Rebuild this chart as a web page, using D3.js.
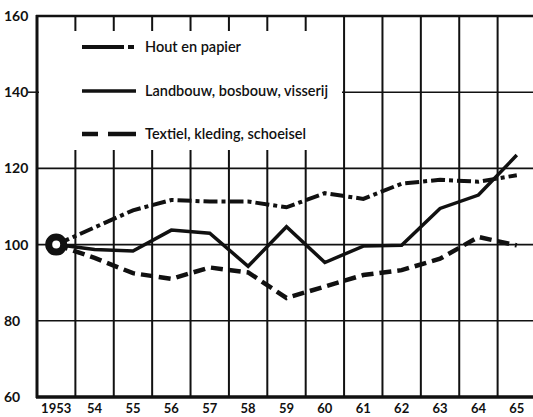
<!DOCTYPE html>
<html>
<head>
<script src="https://d3js.org/d3.v7.min.js"></script>
<style>
  body { margin: 0; background: #fff; }
  text { font-family: Lato, "Open Sans", sans-serif; fill: #111; }
</style>
</head>
<body>
<div id="chart"></div>
<script>
var years = ["1953","54","55","56","57","58","59","60","61","62","63","64","65"];
var hout     = [100, 104.5, 109, 111.7, 111.3, 111.3, 109.8, 113.5, 112, 116, 117, 116.5, 118.2];
var landbouw = [100, 98.7, 98.3, 103.8, 103, 94.3, 104.7, 95.3, 99.6, 99.8, 109.5, 113, 123.5];
var textiel  = [100, 96.5, 92.5, 91, 94, 92.7, 86, 89, 92, 93.3, 96.3, 102, 99.8];
var yTicks = [60, 80, 100, 120, 140, 160];
var seriesNames = ["Hout en papier", "Landbouw, bosbouw, visserij", "Textiel, kleding, schoeisel"];

var width = 533, height = 417;
var svg = d3.select("#chart").append("svg")
    .attr("width", width)
    .attr("height", height);

var x = d3.scaleBand().domain(years).range([37, 536]);
var y = d3.scaleLinear().domain([60, 160]).range([397, 16]);
var cx = function(d) { return x(d) + x.bandwidth() / 2; };

// grid
svg.selectAll("line.hgrid")
  .data(yTicks.filter(function(t) { return t > 60 && t < 160; }))
  .enter().append("line")
    .attr("x1", 37).attr("x2", width)
    .attr("y1", function(d) { return y(d); })
    .attr("y2", function(d) { return y(d); })
    .attr("stroke", "#111").attr("stroke-width", 1.6);

svg.selectAll("line.vgrid")
  .data(years.slice(1))
  .enter().append("line")
    .attr("x1", function(d) { return x(d); })
    .attr("x2", function(d) { return x(d); })
    .attr("y1", y(160)).attr("y2", y(60))
    .attr("stroke", "#111").attr("stroke-width", 2);

// blank area behind the legend
svg.append("rect")
    .attr("x", 39).attr("y", 31)
    .attr("width", 303).attr("height", 119)
    .attr("fill", "#fff");

// axes frame
svg.append("line")
    .attr("x1", 37).attr("x2", 37)
    .attr("y1", y(160) - 1).attr("y2", y(60) + 1)
    .attr("stroke", "#111").attr("stroke-width", 3);
svg.append("line")
    .attr("x1", 36).attr("x2", width)
    .attr("y1", y(60)).attr("y2", y(60))
    .attr("stroke", "#111").attr("stroke-width", 3.5);
svg.append("line")
    .attr("x1", 36).attr("x2", width)
    .attr("y1", y(160)).attr("y2", y(160))
    .attr("stroke", "#111").attr("stroke-width", 2.5);
svg.append("line")
    .attr("x1", 28).attr("x2", 37)
    .attr("y1", y(140)).attr("y2", y(140))
    .attr("stroke", "#111").attr("stroke-width", 1.5);

// tick labels
svg.selectAll("text.ylab")
  .data(yTicks)
  .enter().append("text")
    .attr("x", 4)
    .attr("y", function(d) { return y(d) + 5; })
    .style("font-size", "14px")
    .style("font-weight", "bold")
    .text(function(d) { return d; });

svg.selectAll("text.xlab")
  .data(years)
  .enter().append("text")
    .attr("x", function(d) { return cx(d); })
    .attr("y", 413)
    .attr("text-anchor", "middle")
    .style("font-size", "13px")
    .style("font-weight", "bold")
    .text(function(d) { return d; });

// series
var line = d3.line()
    .x(function(d, i) { return cx(years[i]); })
    .y(function(d) { return y(d); });

var styles = [
  { data: hout, dash: "14,4,4,4", w: 4 },
  { data: landbouw, dash: null, w: 3.5 },
  { data: textiel, dash: "12,6", w: 4.5 }
];

styles.forEach(function(s) {
  svg.append("path")
      .datum(s.data)
      .attr("d", line)
      .attr("fill", "none")
      .attr("stroke", "#111")
      .attr("stroke-width", s.w)
      .attr("stroke-dasharray", s.dash);
});

// start marker
svg.append("circle")
    .attr("cx", cx(years[0]))
    .attr("cy", y(hout[0]))
    .attr("r", 7.5)
    .attr("fill", "#fff")
    .attr("stroke", "#111")
    .attr("stroke-width", 7);

// legend
var legY = [47, 91, 134];
styles.forEach(function(s, i) {
  svg.append("line")
      .attr("x1", 82).attr("x2", 136)
      .attr("y1", legY[i]).attr("y2", legY[i])
      .attr("stroke", "#111")
      .attr("stroke-width", s.w)
      .attr("stroke-dasharray", i === 0 ? "42,4,6,20" : (i === 2 ? "16,10,28,0" : null));
  svg.append("text")
      .attr("x", 145)
      .attr("y", legY[i] + 5)
      .style("font-size", "14.5px")
      .style("font-weight", "600")
      .text(seriesNames[i]);
});
</script>
</body>
</html>
